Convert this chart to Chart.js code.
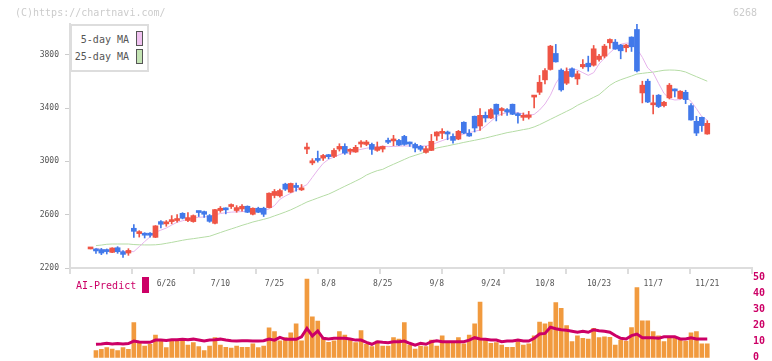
<!DOCTYPE html>
<html>
<head>
<meta charset="utf-8">
<title>6268</title>
<script src="https://cdn.jsdelivr.net/npm/chart.js@4.4.1/dist/chart.umd.min.js"></script>
<style>
  html, body { margin: 0; padding: 0; background: #fff; overflow: hidden; }
  #wrap { position: relative; width: 772px; height: 361px; overflow: hidden; font-family: "DejaVu Sans Mono", monospace; }
  canvas { position: absolute; left: 0; }
  #priceChart { top: 0; }
  #aiChart { top: 270px; }
  .txt { position: absolute; white-space: nowrap; font-size: 10px; line-height: 10px; }
  .gray { color: #ccc; }
  .leg { color: #555; text-align: right; }
  .sw { position: absolute; width: 7px; height: 15px; box-sizing: border-box; border: 1px solid #555; }
  #legendBox { position: absolute; left: 70px; top: 24px; width: 79px; height: 48px; box-sizing: border-box; border: 2px solid #ddd; background: #fff; }
</style>
</head>
<body>
<div id="wrap">
  <canvas id="priceChart" width="772" height="300"></canvas>
  <canvas id="aiChart" width="772" height="100"></canvas>

  <div class="txt gray" style="left:15px; top:8px;">(C)https://chartnavi.com/</div>
  <div class="txt gray" style="right:15px; top:8px;">6268</div>

  <div id="legendBox"></div>
  <div class="txt leg" style="right:643px; top:35px;">5-day MA</div>
  <div class="sw" style="left:136px; top:31px; background:#f0c2f0;"></div>
  <div class="txt leg" style="right:643px; top:52px;">25-day MA</div>
  <div class="sw" style="left:136px; top:49px; background:#c4e4b4;"></div>

  <div class="txt" style="left:76px; top:281px; color:#cc0066;">AI-Predict</div>
  <div style="position:absolute; left:142px; top:277px; width:7px; height:16px; background:#cc0066;"></div>
</div>

<script>
// trading days shown (2025)
const dates = [
  '6/6','6/9','6/10','6/11','6/12','6/13','6/16','6/17','6/18','6/19',
  '6/20','6/23','6/24','6/25','6/26','6/27','6/30','7/1','7/2','7/3',
  '7/4','7/7','7/8','7/9','7/10','7/11','7/14','7/15','7/16','7/17',
  '7/18','7/22','7/23','7/24','7/25','7/28','7/29','7/30','7/31','8/1',
  '8/4','8/5','8/6','8/7','8/8','8/12','8/13','8/14','8/15','8/18',
  '8/19','8/20','8/21','8/22','8/25','8/26','8/27','8/28','8/29','9/1',
  '9/2','9/3','9/4','9/5','9/8','9/9','9/10','9/11','9/12','9/16',
  '9/17','9/18','9/19','9/22','9/24','9/25','9/26','9/29','9/30','10/1',
  '10/2','10/3','10/6','10/7','10/8','10/9','10/10','10/14','10/15','10/16',
  '10/17','10/20','10/21','10/22','10/23','10/24','10/27','10/28','10/29','10/30',
  '10/31','11/4','11/5','11/6','11/7','11/10','11/11','11/12','11/13','11/14',
  '11/17','11/18','11/19','11/20','11/21'
];

const tickLabels = ['6/26','7/10','7/25','8/8','8/25','9/8','9/24','10/8','10/23','11/7','11/21'];
const priceTicks = [2200, 2600, 3000, 3400, 3800];
const predictTicks = [0, 10, 20, 30, 40, 50];

const opens = [
  2343, 2332, 2338, 2327, 2317, 2352, 2322, 2312, 2498, 2458,
  2450, 2450, 2430, 2548, 2531, 2548, 2556, 2610, 2556, 2548,
  2620, 2623, 2593, 2535, 2631, 2640, 2661, 2631, 2643, 2663,
  2603, 2648, 2648, 2653, 2744, 2741, 2829, 2769, 2808, 2786,
  3092, 2988, 3011, 3024, 3039, 3037, 3092, 3112, 3075, 3070,
  3130, 3127, 3127, 3082, 3092, 3147, 3153, 3157, 3187, 3134,
  3127, 3112, 3067, 3082, 3190, 3210, 3209, 3187, 3167, 3293,
  3210, 3338, 3265, 3345, 3325, 3428, 3381, 3388, 3428, 3353,
  3330, 3330, 3482, 3518, 3611, 3689, 3809, 3684, 3586, 3694,
  3618, 3709, 3736, 3721, 3764, 3789, 3889, 3894, 3872, 3852,
  3932, 3989, 3513, 3601, 3424, 3496, 3418, 3476, 3541, 3471,
  3518, 3418, 3300, 3330, 3205
];
const highs = [
  2343, 2345, 2347, 2343, 2352, 2360, 2330, 2345, 2526, 2480,
  2465, 2465, 2518, 2556, 2556, 2593, 2601, 2615, 2616, 2598,
  2626, 2626, 2601, 2640, 2661, 2651, 2681, 2668, 2676, 2666,
  2651, 2656, 2656, 2764, 2789, 2791, 2836, 2837, 2836, 2826,
  3137, 3020, 3077, 3052, 3052, 3095, 3132, 3132, 3095, 3120,
  3155, 3157, 3137, 3145, 3115, 3175, 3195, 3165, 3195, 3145,
  3137, 3120, 3112, 3202, 3222, 3245, 3227, 3207, 3232, 3297,
  3238, 3340, 3395, 3370, 3395, 3430, 3403, 3395, 3430, 3363,
  3363, 3375, 3488, 3644, 3696, 3870, 3877, 3694, 3701, 3701,
  3676, 3764, 3789, 3869, 3802, 3877, 3919, 3914, 3877, 3877,
  3934, 4029, 3601, 3616, 3496, 3501, 3450, 3584, 3543, 3530,
  3533, 3433, 3338, 3332, 3305
];
const lows = [
  2343, 2310, 2300, 2305, 2315, 2310, 2280, 2295, 2430, 2432,
  2425, 2432, 2428, 2501, 2513, 2531, 2543, 2568, 2548, 2543,
  2586, 2580, 2543, 2530, 2618, 2606, 2646, 2618, 2626, 2615,
  2598, 2615, 2586, 2650, 2726, 2731, 2781, 2766, 2776, 2781,
  3057, 2974, 2994, 3007, 3019, 3027, 3077, 3052, 3052, 3067,
  3107, 3117, 3052, 3075, 3070, 3132, 3117, 3117, 3120, 3112,
  3070, 3077, 3062, 3080, 3157, 3170, 3162, 3137, 3162, 3207,
  3187, 3220, 3232, 3295, 3320, 3303, 3345, 3345, 3350, 3287,
  3307, 3317, 3400, 3501, 3581, 3684, 3744, 3526, 3576, 3631,
  3576, 3696, 3676, 3714, 3751, 3776, 3847, 3840, 3769, 3821,
  3824, 3671, 3438, 3440, 3355, 3403, 3408, 3468, 3483, 3468,
  3433, 3308, 3193, 3225, 3203
];
const closes = [
  2343, 2328, 2312, 2323, 2350, 2322, 2302, 2332, 2475, 2468,
  2446, 2446, 2516, 2528, 2543, 2563, 2571, 2573, 2578, 2593,
  2616, 2603, 2550, 2638, 2648, 2636, 2665, 2653, 2663, 2618,
  2648, 2618, 2603, 2761, 2774, 2781, 2791, 2834, 2804, 2796,
  3098, 3004, 3007, 3044, 3035, 3082, 3112, 3062, 3079, 3105,
  3134, 3145, 3090, 3107, 3112, 3143, 3157, 3122, 3127, 3130,
  3100, 3090, 3095, 3150, 3220, 3214, 3205, 3157, 3225, 3212,
  3190, 3250, 3345, 3325, 3388, 3353, 3385, 3370, 3353, 3343,
  3334, 3348, 3486, 3593, 3681, 3864, 3746, 3536, 3674, 3636,
  3656, 3727, 3709, 3844, 3789, 3864, 3914, 3842, 3829, 3872,
  3859, 3678, 3571, 3445, 3428, 3411, 3443, 3571, 3528, 3526,
  3463, 3310, 3212, 3268, 3285
];

const ma5 = [
  null, 2348, 2340, 2335, 2332, 2328, 2325, 2323, 2323, 2360,
  2398, 2434, 2468, 2484, 2500, 2522, 2543, 2554, 2566, 2576,
  2580, 2583, 2586, 2600, 2608, 2615, 2619, 2621, 2623, 2625,
  2627, 2629, 2631, 2643, 2668, 2715, 2740, 2760, 2785, 2805,
  2825, 2880, 2935, 2985, 3015, 3032, 3050, 3065, 3062, 3080,
  3090, 3098, 3105, 3110, 3114, 3110, 3112, 3114, 3115, 3115,
  3115, 3114, 3116, 3122, 3140, 3155, 3170, 3182, 3192, 3205,
  3215, 3225, 3235, 3265, 3300, 3335, 3355, 3365, 3370, 3365,
  3355, 3345, 3352, 3385, 3430, 3495, 3585, 3645, 3685, 3695,
  3685, 3665, 3645, 3665, 3730, 3775, 3815, 3850, 3878, 3887,
  3885, 3845, 3780, 3700, 3664, 3585, 3510, 3470, 3460, 3463,
  3485, 3450, 3395, 3335, 3310
];
const ma25 = [
  null, 2368, 2372, 2378, 2380, 2380, 2380, 2380, 2376, 2374,
  2373, 2373, 2374, 2378, 2385, 2392, 2400, 2408, 2415, 2420,
  2426, 2432, 2438, 2452, 2466, 2480, 2493, 2506, 2520, 2532,
  2545, 2555, 2565, 2576, 2591, 2605, 2620, 2636, 2655, 2675,
  2695, 2710, 2725, 2740, 2754, 2773, 2793, 2813, 2832, 2852,
  2872, 2897, 2915, 2930, 2940, 2960, 2978, 2996, 3014, 3032,
  3045, 3058, 3072, 3085, 3100, 3108, 3116, 3125, 3133, 3142,
  3150, 3158, 3166, 3175, 3185, 3195, 3205, 3215, 3222, 3230,
  3238, 3245, 3258, 3275, 3295, 3315, 3335, 3355, 3375, 3395,
  3420, 3440, 3460, 3480, 3500, 3535, 3570, 3595, 3612, 3626,
  3640, 3655, 3660, 3665, 3669, 3676, 3683, 3685, 3684, 3680,
  3670, 3652, 3635, 3618, 3601
];

// volume bars, read as heights on the 0-50 scale of the lower panel
const volume = [
  null, 4.4, 5.2, 6.3, 5.4, 4.4, 6.3, 5.2, 21.9, 9.0,
  7.3, 8.3, 14.2, 10.4, 6.3, 11.0, 11.0, 10.4, 7.9, 9.4,
  6.9, 4.4, 7.3, 12.5, 7.9, 6.5, 6.0, 7.3, 6.5, 6.5,
  8.6, 6.3, 7.3, 18.6, 16.3, 10.6, 12.5, 15.6, 21.1, 10.6,
  49.2, 25.6, 22.9, 12.5, 9.6, 10.6, 16.3, 14.2, 12.1, 9.4,
  16.9, 8.3, 6.9, 10.4, 7.3, 7.3, 12.5, 11.7, 21.9, 7.9,
  5.4, 7.3, 6.9, 11.0, 7.3, 13.6, 9.0, 9.0, 12.5, 8.6,
  14.2, 21.1, 34.8, 11.0, 9.0, 9.4, 7.9, 6.5, 6.5, 10.0,
  7.9, 8.6, 13.6, 22.3, 21.1, 22.3, 34.4, 30.9, 20.0, 10.0,
  13.6, 12.1, 11.7, 18.3, 12.5, 13.1, 12.7, 7.9, 11.0, 10.4,
  18.9, 43.8, 23.1, 23.1, 16.3, 13.6, 10.0, 12.1, 12.1, 11.5,
  10.4, 15.6, 16.3, 8.6, 8.6
];
const aiPredict = [
  null, 8.4, 8.6, 9.0, 8.6, 8.8, 8.6, 8.8, 10.4, 9.8,
  9.6, 9.6, 11.0, 11.0, 10.8, 11.2, 11.2, 11.6, 11.2, 11.6,
  11.0, 10.4, 11.0, 11.2, 11.6, 11.0, 10.6, 10.4, 10.6, 10.6,
  10.4, 10.4, 10.6, 11.7, 11.0, 12.7, 11.5, 11.5, 11.5, 13.1,
  18.3, 13.6, 16.7, 12.1, 11.7, 12.1, 12.1, 12.1, 11.7, 11.0,
  11.0, 9.6, 8.4, 10.0, 9.6, 9.4, 10.0, 10.0, 10.4, 9.0,
  7.9, 9.0, 8.4, 10.0, 10.6, 10.0, 10.0, 10.0, 10.0, 10.0,
  11.0, 12.5, 11.7, 11.5, 11.0, 11.0, 10.0, 10.4, 10.4, 11.0,
  10.4, 10.4, 12.1, 14.8, 15.2, 19.0, 18.1, 17.5, 17.1, 16.5,
  15.9, 16.5, 15.9, 17.5, 16.9, 16.5, 15.9, 13.9, 12.1, 11.7,
  13.8, 14.8, 12.5, 12.5, 12.5, 12.1, 13.1, 13.1, 13.1, 11.7,
  11.7, 12.5, 11.7, 11.7, 11.7
];

const UP = '#ef5445';
const DOWN = '#4279ea';
const X_MIN = -3.8;
const X_MAX = 122.27;
const FONT = '"DejaVu Sans Mono", monospace';

const idx = dates.map((d, i) => i);
const candleColors = idx.map(i => closes[i] >= opens[i] ? UP : DOWN);

new Chart(document.getElementById('priceChart'), {
  type: 'bar',
  data: {
    datasets: [
      {
        type: 'bar',
        label: 'body',
        data: idx.map(i => ({ x: i, y: [opens[i], closes[i]] })),
        backgroundColor: candleColors,
        barThickness: 5,
        minBarLength: 2,
        grouped: false,
        xAxisID: 'x', yAxisID: 'y',
        order: 0
      },
      {
        type: 'bar',
        label: 'wick',
        data: idx.map(i => ({ x: i, y: [lows[i], highs[i]] })),
        backgroundColor: candleColors,
        barThickness: 1,
        grouped: false,
        xAxisID: 'x', yAxisID: 'y',
        order: 1
      },
      {
        type: 'line',
        label: '5-day MA',
        data: idx.map(i => ({ x: i, y: ma5[i] })),
        borderColor: '#e6b3ec',
        borderWidth: 1,
        pointRadius: 0,
        tension: 0,
        xAxisID: 'x', yAxisID: 'y',
        order: 2
      },
      {
        type: 'line',
        label: '25-day MA',
        data: idx.map(i => ({ x: i, y: ma25[i] })),
        borderColor: '#b5dca5',
        borderWidth: 1,
        pointRadius: 0,
        tension: 0,
        xAxisID: 'x', yAxisID: 'y',
        order: 3
      }
    ]
  },
  options: {
    responsive: false,
    animation: false,
    layout: { padding: { top: 24, right: 20, bottom: 0, left: 0 } },
    plugins: { legend: { display: false }, tooltip: { enabled: false } },
    scales: {
      x: {
        type: 'linear', min: X_MIN, max: X_MAX, offset: false,
        position: 'bottom', weight: 1,
        grid: { display: false, drawTicks: false, offset: false },
        border: { display: false },
        afterBuildTicks: s => { s.ticks = tickLabels.map(l => ({ value: dates.indexOf(l) })); },
        afterFit: s => { s.height = 26; },
        ticks: {
          callback: v => dates[v],
          color: '#555', font: { family: FONT, size: 8 },
          padding: 5, maxRotation: 0, autoSkip: false
        }
      },
      xg: {
        type: 'linear', min: X_MIN, max: X_MAX, offset: false,
        position: 'bottom', weight: 0,
        afterBuildTicks: s => {
          const t = [];
          for (let k = 0; k <= 11; k++) t.push({ value: X_MIN + k * (X_MAX - X_MIN) / 11 });
          s.ticks = t;
        },
        afterFit: s => { s.height = 6; },
        grid: { drawOnChartArea: false, offset: false, tickLength: 6, color: '#ddd', lineWidth: 2 },
        border: { display: true, color: '#ddd', width: 2 },
        ticks: { display: false }
      },
      y: {
        type: 'linear', min: 2200, max: 4030, position: 'left',
        afterBuildTicks: s => { s.ticks = priceTicks.map(v => ({ value: v })); },
        afterFit: s => { s.width = 70; },
        grid: { drawOnChartArea: false, tickLength: 5, color: '#ccc' },
        border: { display: true, color: '#ddd', width: 2 },
        ticks: { callback: v => String(v), color: '#555', font: { family: FONT, size: 8 }, padding: 6 }
      }
    }
  }
});

new Chart(document.getElementById('aiChart'), {
  type: 'bar',
  data: {
    datasets: [
      {
        type: 'line',
        label: 'AI-Predict',
        data: idx.map(i => ({ x: i, y: aiPredict[i] })),
        borderColor: '#cc0066',
        backgroundColor: '#cc0066',
        borderWidth: 3,
        pointRadius: 0,
        tension: 0,
        xAxisID: 'x', yAxisID: 'ya',
        order: 0
      },
      {
        type: 'bar',
        label: 'Volume',
        data: idx.map(i => ({ x: i, y: volume[i] })),
        backgroundColor: '#f19a3e',
        barThickness: 4,
        grouped: false,
        xAxisID: 'x', yAxisID: 'yv',
        order: 1
      }
    ]
  },
  options: {
    responsive: false,
    animation: false,
    layout: { padding: { top: 7.7, right: 0, bottom: 12.3, left: 70 } },
    plugins: { legend: { display: false }, tooltip: { enabled: false } },
    scales: {
      x: { type: 'linear', min: X_MIN, max: X_MAX, offset: false, display: false },
      yv: { type: 'linear', min: 0, max: 50, display: false },
      ya: {
        type: 'linear', min: 0, max: 50, position: 'right',
        afterBuildTicks: s => { s.ticks = predictTicks.map(v => ({ value: v })); },
        afterFit: s => { s.width = 20; },
        grid: { display: false, drawTicks: false },
        border: { display: false },
        ticks: { color: '#cc0066', font: { family: FONT, size: 10, weight: 'bold' }, padding: 1 }
      }
    }
  }
});
</script>
</body>
</html>
